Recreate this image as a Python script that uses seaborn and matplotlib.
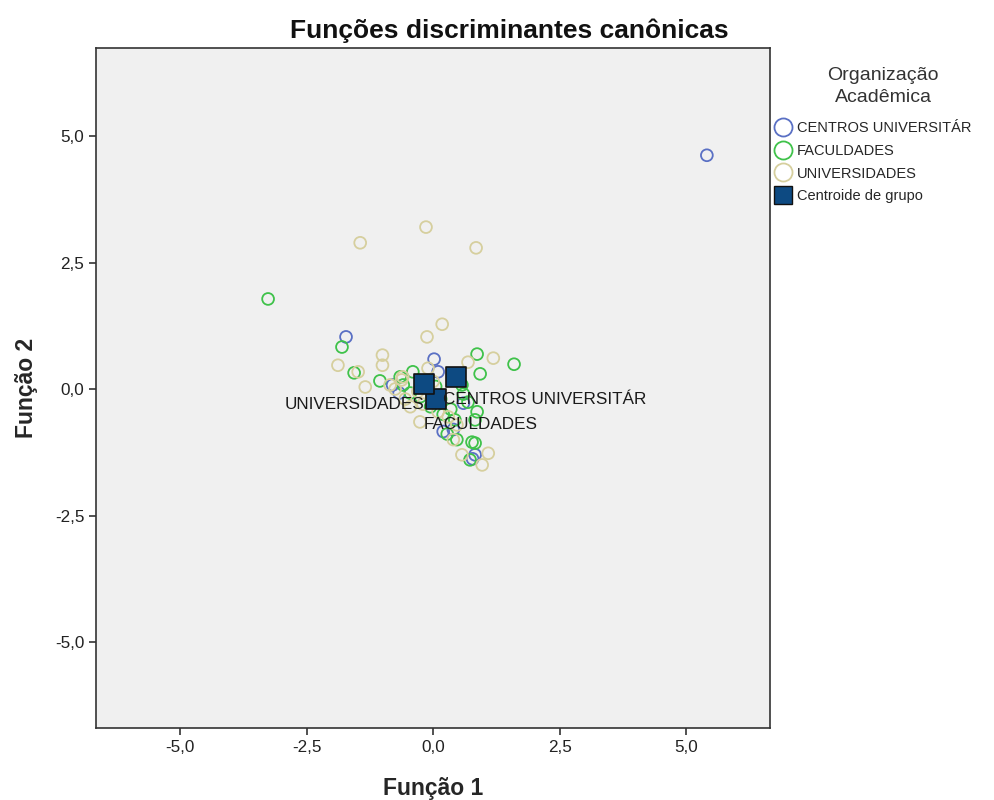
import numpy as np
import pandas as pd
import matplotlib
matplotlib.use("Agg")
import matplotlib.pyplot as plt
from matplotlib.lines import Line2D
from matplotlib.ticker import FuncFormatter
import seaborn as sns

# ---- data ----
centros_x = [5.41, -1.72, 0.02, 0.10, -0.80, -0.67, 0.60, 0.40, 0.20, 0.83, 0.78]
centros_y = [4.62, 1.03, 0.59, 0.34, 0.08, -0.08, -0.28, -0.80, -0.84, -1.30, -1.38]

facul_x = [-3.26, -1.80, -1.56, -1.05, -0.65, -0.40, -0.59, -0.45, 0.87, 1.60, 0.93,
           0.57, 0.69, 0.87, 0.83, 0.43, 0.28, 0.47, 0.77, 0.83, 0.73, 0.20, -0.05,
           0.15, 0.35, -0.25, 0.05, 0.60]
facul_y = [1.78, 0.83, 0.32, 0.16, 0.24, 0.34, 0.08, -0.08, 0.69, 0.49, 0.30,
           0.08, -0.26, -0.45, -0.61, -0.61, -0.89, -1.00, -1.05, -1.07, -1.40, -0.50, -0.35,
           -0.20, -0.40, -0.15, 0.05, -0.10]

univ_x = [-1.44, -0.14, 0.85, 0.18, -0.12, -1.00, -1.00, -1.88, -1.48, -1.34, -0.85,
          -0.62, -0.10, 1.19, 0.69, -0.60, -0.45, -0.26, 0.47, 0.57, 1.09, 0.97, 0.40,
          -0.30, -0.20, 0.10, -0.55, 0.30, 0.00, -0.75]
univ_y = [2.89, 3.20, 2.79, 1.28, 1.03, 0.67, 0.47, 0.47, 0.34, 0.04, 0.08,
          0.18, 0.41, 0.61, 0.53, 0.24, -0.35, -0.65, -0.71, -1.30, -1.27, -1.50, -1.00,
          -0.05, -0.30, -0.45, -0.20, -0.55, 0.15, 0.00]

groups = ["CENTROS UNIVERSITÁR", "FACULDADES", "UNIVERSIDADES"]
centroid_x = [0.45, 0.06, -0.18]
centroid_y = [0.24, -0.20, 0.10]

ticks = [-5.0, -2.5, 0.0, 2.5, 5.0]

colors = {"CENTROS UNIVERSITÁR": "#5a70c4",
          "FACULDADES": "#3fc24a",
          "UNIVERSIDADES": "#d6cf9e"}
centroid_color = "#0d4a82"

df = pd.concat([
    pd.DataFrame({"x": centros_x, "y": centros_y, "grupo": groups[0]}),
    pd.DataFrame({"x": facul_x, "y": facul_y, "grupo": groups[1]}),
    pd.DataFrame({"x": univ_x, "y": univ_y, "grupo": groups[2]}),
], ignore_index=True)
cent = pd.DataFrame({"x": centroid_x, "y": centroid_y, "grupo": groups})

sns.set_style("white")
plt.rcParams["font.family"] = ["Liberation Sans", "DejaVu Sans"]

fig = plt.figure(figsize=(9.95, 8.0), dpi=100)
ax = fig.add_axes([0.0965, 0.09, 0.6775, 0.85])
ax.set_facecolor("#f0f0f0")

for g in groups:
    sub = df[df["grupo"] == g]
    sns.scatterplot(data=sub, x="x", y="y", ax=ax, marker="o", s=72,
                    facecolors="none", edgecolor=colors[g], linewidth=1.3,
                    legend=False, zorder=3)

sns.scatterplot(data=cent, x="x", y="y", ax=ax, marker="s", s=190,
                color=centroid_color, edgecolor="#111111", linewidth=1.2,
                legend=False, zorder=5)

# centroid labels
offsets = {"CENTROS UNIVERSITÁR": (-9, -16, "left"),
           "FACULDADES": (-9, -18, "left"),
           "UNIVERSIDADES": (0, -15, "right")}
for gx, gy, g in zip(centroid_x, centroid_y, groups):
    dx, dy, ha = offsets[g]
    ax.annotate(g, (gx, gy), xytext=(dx, dy), textcoords="offset points",
                ha=ha, va="center", fontsize=12.3, color="#1a1a1a", zorder=6)

ax.set_xlim(-6.66, 6.66)
ax.set_ylim(-6.70, 6.74)
ax.set_xticks(ticks)
ax.set_yticks(ticks)
fmt = FuncFormatter(lambda v, p: f"{v:.1f}".replace(".", ","))
ax.xaxis.set_major_formatter(fmt)
ax.yaxis.set_major_formatter(fmt)
ax.tick_params(axis="both", direction="out", length=5, width=1.2,
               colors="#333333", labelsize=12.3, labelcolor="#222222",
               bottom=True, left=True)
for sp in ax.spines.values():
    sp.set_color("#333333")
    sp.set_linewidth(1.2)

ax.set_xlabel("Função 1", fontsize=16.5, fontweight="bold", labelpad=16)
ax.set_ylabel("Função 2", fontsize=16.5, fontweight="bold", labelpad=12)
fig.text(0.5116, 0.9615, "Funções discriminantes canônicas", fontsize=19,
         fontweight="bold", ha="center", va="center", color="#111111")

# legend title
fig.text(0.8874, 1 - 75 / 800, "Organização", fontsize=14, ha="center",
         va="center", color="#333333")
fig.text(0.8874, 1 - 97 / 800, "Acadêmica", fontsize=14, ha="center",
         va="center", color="#333333")

handles = [Line2D([], [], marker="o", linestyle="none", markersize=13,
                  markerfacecolor="none", markeredgecolor=colors[g], markeredgewidth=1.3)
           for g in groups]
handles.append(Line2D([], [], marker="s", linestyle="none", markersize=13,
                      markerfacecolor=centroid_color, markeredgecolor="#111111",
                      markeredgewidth=1.0))
labels = groups + ["Centroide de grupo"]
leg = fig.legend(handles, labels,
                 loc="upper left", bbox_to_anchor=(0.780, 1 - 121 / 800), frameon=False,
                 fontsize=10.5, handlelength=1.0,
                 handletextpad=0.45, labelspacing=0.6, borderaxespad=0, borderpad=0)

fig.savefig("out.png", dpi=100)
